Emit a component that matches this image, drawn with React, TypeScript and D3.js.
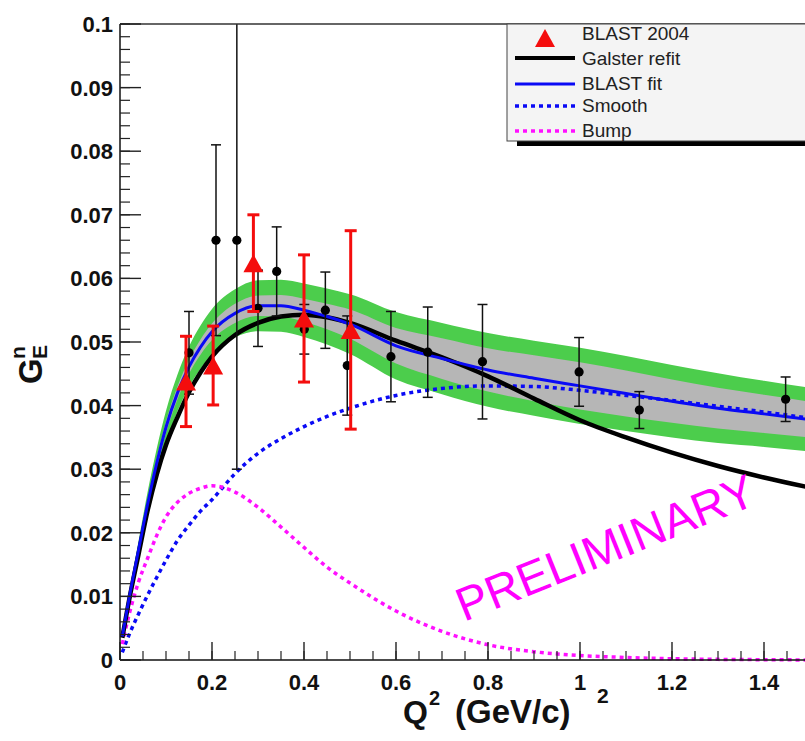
import React from 'react';
import * as d3 from 'd3';

const W = 805;
const H = 741;

// Sample abscissae (Q^2, GeV^2) for the fitted curves
const curveQ = [0.005, 0.02, 0.04, 0.06, 0.08, 0.1, 0.125, 0.15, 0.175, 0.2, 0.25, 0.3, 0.35, 0.4, 0.45, 0.5, 0.6, 0.7, 0.8, 0.9, 1.0, 1.1, 1.2, 1.3, 1.4, 1.5];
const galsterRefit = [0.0035, 0.0095, 0.0165, 0.0235, 0.0292, 0.0338, 0.0382, 0.0421, 0.0452, 0.0477, 0.0511, 0.053, 0.054, 0.0543, 0.0539, 0.053, 0.0502, 0.0476, 0.0446, 0.0411, 0.0377, 0.035, 0.0326, 0.0305, 0.0287, 0.0271];
const blastFit = [0.0037, 0.0098, 0.0172, 0.0245, 0.031, 0.0366, 0.042, 0.0461, 0.0492, 0.0516, 0.0545, 0.0557, 0.0557, 0.055, 0.054, 0.0528, 0.0494, 0.0474, 0.0456, 0.0443, 0.0431, 0.0419, 0.0407, 0.0396, 0.0387, 0.0378];
const smoothTerm = [0.0012, 0.004, 0.0072, 0.0102, 0.013, 0.0157, 0.0188, 0.0212, 0.0234, 0.0252, 0.0293, 0.0325, 0.0348, 0.0367, 0.0383, 0.0396, 0.0416, 0.0427, 0.0431, 0.043, 0.0424, 0.0416, 0.0408, 0.0399, 0.039, 0.038];
const bumpTerm = [0.0025, 0.0072, 0.0122, 0.016, 0.0196, 0.0225, 0.0248, 0.0262, 0.027, 0.0274, 0.0264, 0.024, 0.0209, 0.0177, 0.0146, 0.0121, 0.0077, 0.0045, 0.0024, 0.0013, 0.0007, 0.0004, 0.0002, 0.0001, 0.00005, 0];
// Half widths of the fit error bands (outer = green, inner = grey)
const outerBandHalf = [0.0003, 0.0008, 0.0014, 0.0019, 0.0023, 0.0026, 0.0029, 0.0032, 0.0034, 0.0036, 0.0038, 0.004, 0.0041, 0.0042, 0.0044, 0.0047, 0.0053, 0.0056, 0.0058, 0.0059, 0.006, 0.0059, 0.0057, 0.0055, 0.0052, 0.005];
const innerBandHalf = [0.0001, 0.0003, 0.0005, 0.0007, 0.0008, 0.0009, 0.001, 0.0011, 0.0012, 0.0013, 0.0015, 0.0016, 0.0017, 0.0018, 0.002, 0.0023, 0.0028, 0.0032, 0.0034, 0.0036, 0.0037, 0.0036, 0.0034, 0.0032, 0.003, 0.0028];

// BLAST 2004 points
const blastQ = [0.1435, 0.2025, 0.29, 0.4, 0.5015];
const blastG = [0.0438, 0.0463, 0.0624, 0.0537, 0.0519];
const blastErr = [0.0071, 0.0062, 0.0076, 0.01, 0.0156];

// World data points
const worldQ = [0.15, 0.2087, 0.254, 0.3, 0.3406, 0.4007, 0.4464, 0.494, 0.589, 0.669, 0.788, 0.998, 1.129, 1.447];
const worldG = [0.0483, 0.066, 0.066, 0.0553, 0.0611, 0.052, 0.055, 0.0463, 0.0477, 0.0484, 0.0469, 0.0453, 0.0393, 0.041];
const worldErr = [0.0065, 0.015, 0.036, 0.006, 0.007, 0.0039, 0.006, 0.0078, 0.0071, 0.0071, 0.009, 0.0054, 0.0029, 0.0035];

const yTicks = [0, 0.01, 0.02, 0.03, 0.04, 0.05, 0.06, 0.07, 0.08, 0.09, 0.1];
const yTickLabels = ['0', '0.01', '0.02', '0.03', '0.04', '0.05', '0.06', '0.07', '0.08', '0.09', '0.1'];
const xTicks = [0, 0.2, 0.4, 0.6, 0.8, 1, 1.2, 1.4];
const xTickLabels = ['0', '0.2', '0.4', '0.6', '0.8', '1', '1.2', '1.4'];

const legendItems = ['BLAST 2004', 'Galster refit', 'BLAST fit', 'Smooth', 'Bump'];

const FONT = "'Liberation Sans', Arial, Helvetica, sans-serif";
const BLUE = '#0a0af5';
const MAGENTA = '#ff10ff';
const RED = '#f40d0d';
const GREEN = '#4ccd4c';
const GREY = '#b6b6b6';

export default function App() {
  const left = 120;
  const top = 24;
  const bottom = 660;
  const x = d3.scaleLinear().domain([0, 1.5]).range([left, left + 690]);
  const y = d3.scaleLinear().domain([0, 0.1]).range([bottom, top]);

  const idx = curveQ.map((_, i) => i);
  const line = (vals: number[]) =>
    d3.line<number>().x((i) => x(curveQ[i])).y((i) => y(vals[i])).curve(d3.curveMonotoneX)(idx) || '';
  const band = (half: number[]) =>
    d3
      .area<number>()
      .x((i) => x(curveQ[i]))
      .y0((i) => y(blastFit[i] - half[i]))
      .y1((i) => y(blastFit[i] + half[i]))
      .curve(d3.curveMonotoneX)(idx) || '';

  const yMinor = d3.range(0, 0.1001, 0.002);
  const xMinor = d3.range(0, 1.5, 0.05);

  const tri = (cx: number, cy: number, w: number, h: number) =>
    `M${cx - w / 2},${cy + h / 2}L${cx + w / 2},${cy + h / 2}L${cx},${cy - h / 2}Z`;

  const legendY = [38, 58, 84, 106, 131];
  const legendBase = [40, 65, 90, 112, 137];

  return (
    <svg width={W} height={H} style={{ position: 'absolute', left: 0, top: 0, background: '#fff' }} fontFamily={FONT}>
      <defs>
        <clipPath id="plotArea">
          <rect x={left} y={top} width={W - left} height={bottom - top + 3} />
        </clipPath>
      </defs>

      <g clipPath="url(#plotArea)">
        <path d={band(outerBandHalf)} fill={GREEN} />
        <path d={band(innerBandHalf)} fill={GREY} />
        <path d={line(smoothTerm)} fill="none" stroke={BLUE} strokeWidth={3.5} strokeDasharray="4 4" />
        <path d={line(bumpTerm)} fill="none" stroke={MAGENTA} strokeWidth={3.5} strokeDasharray="4 4" />
        <path d={line(galsterRefit)} fill="none" stroke="#000" strokeWidth={4.5} />
        <path d={line(blastFit)} fill="none" stroke={BLUE} strokeWidth={3} />

        {worldQ.map((q, i) => {
          const cx = x(q);
          const y0 = y(worldG[i] - worldErr[i]);
          const y1 = y(worldG[i] + worldErr[i]);
          return (
            <g key={'w' + i}>
              <line x1={cx} x2={cx} y1={y0} y2={y1} stroke="#111" strokeWidth={1.5} />
              <line x1={cx - 5} x2={cx + 5} y1={y0} y2={y0} stroke="#111" strokeWidth={1.5} />
              <line x1={cx - 5} x2={cx + 5} y1={y1} y2={y1} stroke="#111" strokeWidth={1.5} />
              <circle cx={cx} cy={y(worldG[i])} r={4.6} fill="#000" />
            </g>
          );
        })}

        {blastQ.map((q, i) => {
          const cx = x(q);
          const y0 = y(blastG[i] - blastErr[i]);
          const y1 = y(blastG[i] + blastErr[i]);
          return (
            <g key={'b' + i}>
              <line x1={cx} x2={cx} y1={y0} y2={y1} stroke={RED} strokeWidth={3} />
              <line x1={cx - 6} x2={cx + 6} y1={y0} y2={y0} stroke={RED} strokeWidth={3} />
              <line x1={cx - 6} x2={cx + 6} y1={y1} y2={y1} stroke={RED} strokeWidth={3} />
              <path d={tri(cx, y(blastG[i]), 20, 18)} fill={RED} />
            </g>
          );
        })}
      </g>

      {/* frame and axes */}
      <line x1={left} x2={W} y1={top} y2={top} stroke="#333" strokeWidth={1.5} />
      <line x1={left} x2={left} y1={top} y2={bottom} stroke="#111" strokeWidth={1.5} />
      <line x1={left} x2={W} y1={bottom} y2={bottom} stroke="#111" strokeWidth={1.5} />

      {yMinor.map((v, i) => (
        <line key={'ym' + i} x1={left} x2={left + 10} y1={y(v)} y2={y(v)} stroke="#222" strokeWidth={1.2} />
      ))}
      {yTicks.map((v, i) => (
        <g key={'yt' + i}>
          <line x1={left} x2={left + 21} y1={y(v)} y2={y(v)} stroke="#222" strokeWidth={1.4} />
          <text x={113} y={y(v)} dy="0.36em" textAnchor="end" fontSize={22} fontWeight="bold" fill="#111">
            {yTickLabels[i]}
          </text>
        </g>
      ))}

      {xMinor.map((v, i) => (
        <line key={'xm' + i} x1={x(v)} x2={x(v)} y1={bottom} y2={bottom - 9} stroke="#222" strokeWidth={1.2} />
      ))}
      {xTicks.map((v, i) => (
        <g key={'xt' + i}>
          <line x1={x(v)} x2={x(v)} y1={bottom} y2={bottom - 18} stroke="#222" strokeWidth={1.4} />
          <text x={x(v)} y={690} textAnchor="middle" fontSize={22} fontWeight="bold" fill="#111">
            {xTickLabels[i]}
          </text>
        </g>
      ))}

      {/* axis titles */}
      <g fontWeight="bold" fill="#111">
        <text x={403} y={723} fontSize={32}>Q</text>
        <text x={429} y={705} fontSize={20}>2</text>
        <text x={455} y={723} fontSize={33}>(GeV/c)</text>
        <text x={597} y={703} fontSize={21}>2</text>
      </g>
      <g transform="translate(42,372) rotate(-90)" fontWeight="bold" fill="#111">
        <text x={-12} y={0} fontSize={33}>G</text>
        <text x={13} y={5} fontSize={21}>E</text>
        <text x={13} y={-17} fontSize={21}>n</text>
      </g>

      {/* watermark */}
      <text transform="translate(464,622) rotate(-21.9)" fontSize={47} fill="#ff00ff">
        PRELIMINARY
      </text>

      {/* legend */}
      <rect x={517} y={141} width={W - 517} height={5} fill="#000" />
      <rect x={507} y={24} width={W - 507 + 2} height={117} fill="#f4f4f4" stroke="#444" strokeWidth={1} />
      <path d={tri(545, legendY[0], 20, 18)} fill={RED} />
      <line x1={515} x2={575} y1={legendY[1]} y2={legendY[1]} stroke="#000" strokeWidth={4} />
      <line x1={515} x2={575} y1={legendY[2]} y2={legendY[2]} stroke={BLUE} strokeWidth={3} />
      <line x1={515} x2={575} y1={legendY[3]} y2={legendY[3]} stroke={BLUE} strokeWidth={3.5} strokeDasharray="4 4" />
      <line x1={515} x2={575} y1={legendY[4]} y2={legendY[4]} stroke={MAGENTA} strokeWidth={3.5} strokeDasharray="4 4" />
      {legendItems.map((t, i) => (
        <text key={t} x={582} y={legendBase[i]} fontSize={19} fill="#222">
          {t}
        </text>
      ))}
    </svg>
  );
}
